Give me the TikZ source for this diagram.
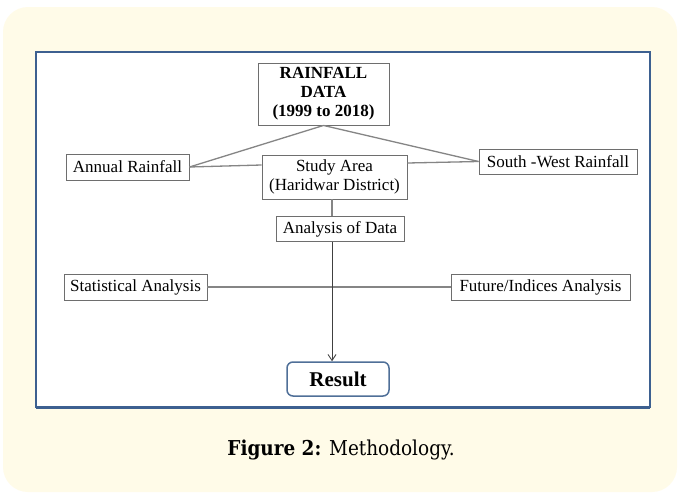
\documentclass[tikz,border=0pt]{standalone}
\usepackage{fontspec}
\setmainfont{Liberation Serif}
\newfontfamily\capfont{DejaVu Serif Condensed}
\usetikzlibrary{arrows.meta}
\definecolor{cream}{HTML}{FFFBE8}
\definecolor{panelblue}{HTML}{3D6090}
\definecolor{boxgray}{HTML}{6E6E6E}
\definecolor{linegray}{HTML}{858585}
\definecolor{resultblue}{HTML}{4F6F98}
\definecolor{darkline}{HTML}{404040}
\begin{document}
\begin{tikzpicture}[x=1pt,y=-1pt,
  box/.style={draw=boxgray, line width=0.9pt, fill=white, inner sep=0pt, align=center, font=\fontsize{17}{19.5}\selectfont},
  conn/.style={draw=linegray, line width=1.3pt}]
\useasboundingbox (0,0) rectangle (680,498);
\fill[white] (0,0) rectangle (680,498);
\fill[cream, rounded corners=25pt] (3,7) rectangle (677,492);
\draw[panelblue, line width=2pt, fill=white] (36,52) rectangle (650,407);
\draw[panelblue, line width=3pt] (36,407) -- (650,407);
\node[box, minimum width=131pt, minimum height=62pt, font=\bfseries\fontsize{17}{19}\selectfont] (rain) at (323.5,94) {RAINFALL\\DATA\\(1999 to 2018)};
\node[box, minimum width=123pt, minimum height=26pt] (annual) at (127.5,167) {Annual Rainfall};
\node[box, minimum width=145pt, minimum height=44pt] (study) at (334.5,177) {Study Area\\(Haridwar District)};
\node[box, minimum width=158pt, minimum height=25pt] (sw) at (558,161.5) {South -West Rainfall};
\node[box, minimum width=128pt, minimum height=25pt] (anal) at (340,229) {Analysis of Data};
\node[box, minimum width=143pt, minimum height=26pt] (stat) at (135.5,287) {Statistical Analysis};
\node[box, minimum width=179pt, minimum height=26pt] (fut) at (540.5,287) {Future/Indices Analysis};
\node[draw=resultblue, line width=1.5pt, fill=white, rounded corners=6pt, minimum width=102pt, minimum height=34pt, inner sep=0pt, font=\bfseries\fontsize{21}{24}\selectfont] (res) at (338,379) {Result};
\node[font=\capfont\fontsize{20.5}{24}\selectfont] (cap) at (341,450) {\textbf{Figure 2:} Methodology.};
\coordinate (vx) at (332,0);
\draw[conn] (rain.south) -- (annual.east);
\draw[conn] (rain.south) -- (sw.west);
\draw[conn] (annual.east) -- ([yshift=2pt]annual.east -| study.west);
\draw[conn] ([yshift=-1.5pt]sw.west -| study.east) -- (sw.west);
\draw[conn] (vx |- study.south) -- (vx |- anal.north);
\draw[conn] (stat.east) -- (fut.west);
\draw[darkline, line width=0.9pt, -{Straight Barb[length=6pt,width=8pt]}] (vx |- anal.south) -- (vx |- res.north);
\end{tikzpicture}
\end{document}
